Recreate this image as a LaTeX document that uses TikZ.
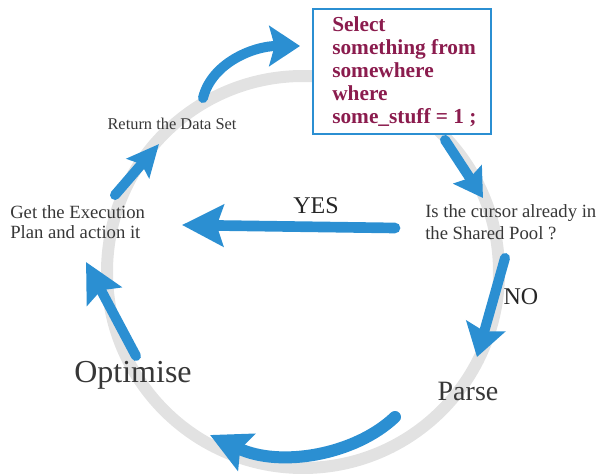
\documentclass[tikz,border=0pt]{standalone}
\usepackage{fontspec}
\setmainfont{Liberation Serif}
\usetikzlibrary{arrows.meta}
\definecolor{flowblue}{RGB}{43,143,210}
\definecolor{ringgrey}{RGB}{226,226,226}
\definecolor{sqlred}{RGB}{139,28,78}
\definecolor{labelgrey}{RGB}{55,55,55}
\begin{document}
\begin{tikzpicture}[x=0.75pt,y=-0.75pt,
  flow/.style={draw=flowblue, line width=7.5pt, line cap=round, -{Stealth[length=#1]}},
  flow/.default={22pt,width=30pt,inset=4pt},
  lbl/.style={text=labelgrey, inner sep=0pt},
  sqlbox/.style={draw=flowblue, line width=1.5pt, fill=white, minimum width=133.5pt, minimum height=93.75pt, inner sep=0pt}]
\useasboundingbox (0,0) rectangle (601,474);
% ring
\node[draw=ringgrey, line width=9pt, circle, minimum size=294pt, inner sep=0pt] (ring) at (303,272) {};
% SQL box
\node[sqlbox, anchor=north west] (box) at (312,8) {};
\node[anchor=north west, inner sep=0pt, align=left, text=sqlred, font=\bfseries\fontsize{16}{17.3}\selectfont] (sql) at (332,16)
  {Select\\something from\\somewhere\\where\\some\_stuff = 1 ;};
% labels
\node[lbl, font=\fontsize{12.3}{15}\selectfont] (ret) at (172,124) {Return the Data Set};
\node[lbl, anchor=west, align=left, font=\fontsize{14}{15}\selectfont] (get) at (10,222) {Get the Execution\\Plan and action it};
\node[lbl, anchor=west, align=left, font=\fontsize{14}{16.5}\selectfont] (cur) at (425,222) {Is the cursor already in\\the Shared Pool ?};
\node[lbl, font=\fontsize{18}{20}\selectfont, text=black!85] (yes) at (316,206) {YES};
\node[lbl, font=\fontsize{18}{20}\selectfont, text=black!85] (no) at (521,297) {NO};
\node[lbl, font=\fontsize{21}{24}\selectfont] (parse) at (468,391) {Parse};
\node[lbl, font=\fontsize{24}{28}\selectfont] (opt) at (133,375) {Optimise};
% arrow end points
\coordinate (t1) at (203,98);  \coordinate (t2) at (300,46);
\coordinate (b1) at (445,140); \coordinate (b2) at (483,198);
\coordinate (n1) at (505,258); \coordinate (n2) at (477,357);
\coordinate (p1) at (395,417); \coordinate (p2) at (210,435);
\coordinate (o1) at (136,356); \coordinate (o2) at (86,262);
\coordinate (g1) at (115,195); \coordinate (g2) at (159,144);
\coordinate (y1) at (395,228); \coordinate (y2) at (182,225);
% arrows
\draw[flow={23pt,width=30pt,inset=4pt}] (t1) .. controls (212,62) and (255,46) .. (t2);
\draw[flow={21pt,width=25pt,inset=3pt}] (b1) -- (b2);
\draw[flow={24pt,width=30pt,inset=4pt}] (n1) -- (n2);
\draw[flow={30pt,width=30pt,inset=5pt}, line width=9pt] (p1) .. controls (355,455) and (280,468) .. (p2);
\draw[flow={29pt,width=29pt,inset=5pt}] (o1) -- (o2);
\draw[flow={24pt,width=22pt,inset=4pt}] (g1) -- (g2);
\draw[flow={31pt,width=31pt,inset=5pt}, line width=8pt] (y1) -- (y2);
\end{tikzpicture}
\end{document}
